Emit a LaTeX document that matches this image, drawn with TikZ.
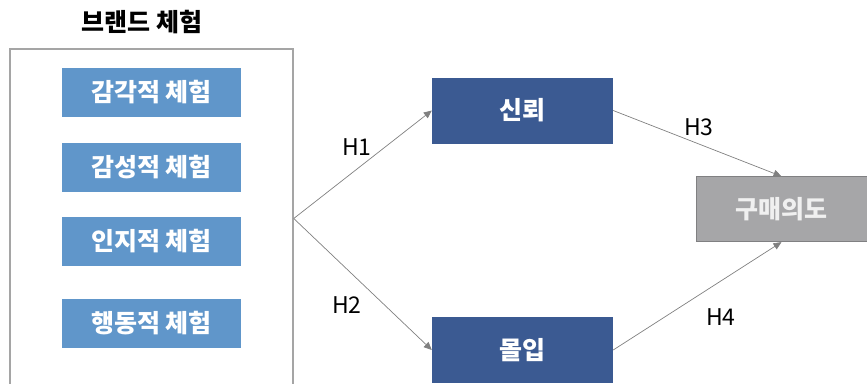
\documentclass[tikz,border=0pt]{standalone}
\usepackage{fontspec}
\setmainfont{Noto Sans CJK KR}
\usetikzlibrary{arrows.meta}
\definecolor{lightbox}{RGB}{96,150,202}
\definecolor{darkbox}{RGB}{59,90,146}
\definecolor{greybox}{RGB}{166,166,168}
\definecolor{greyedge}{RGB}{128,128,130}
\definecolor{framegrey}{RGB}{165,165,165}
\definecolor{arrowgrey}{RGB}{128,128,128}
\newcommand{\kfont}{\bfseries\fontsize{25}{28}\selectfont}
\tikzset{
  expbox/.style={fill=lightbox, draw=none, minimum width=179pt, minimum height=49pt, inner sep=0pt, text=white, font=\kfont},
  medbox/.style={fill=darkbox, draw=none, minimum width=181pt, minimum height=66pt, inner sep=0pt, text=white, font=\kfont},
  outbox/.style={fill=greybox, draw=greyedge, line width=0.8pt, minimum width=171pt, minimum height=65pt, inner sep=0pt, text=white!94!black, font=\kfont},
  framebox/.style={draw=framegrey, line width=1.5pt, fill=white, minimum width=283pt, minimum height=339pt, inner sep=0pt},
  hyp/.style={draw=arrowgrey, line width=0.7pt, -{Triangle[length=8pt,width=7pt]}},
  hlab/.style={font=\fontsize{23}{26}\selectfont, text=black, inner sep=0pt}
}
\begin{document}
\begin{tikzpicture}[x=1pt,y=-1pt]
\useasboundingbox (0,0) rectangle (867,383);
\begin{scope}
\clip (0,0) rectangle (867,383);
\node[framebox] (frame) at (151.5,218.5) {};
\node[expbox] (e1) at (151.5,92.5) {감각적 체험};
\node[expbox] (e2) at (151.5,167) {감성적 체험};
\node[expbox] (e3) at (151.5,241.5) {인지적 체험};
\node[expbox] (e4) at (151.5,323) {행동적 체험};
\node[medbox] (trust) at (522.5,110.5) {신뢰};
\node[medbox] (flow) at (522.5,350) {몰입};
\node[outbox] (intent) at (781.5,209.2) {구매의도};
\node[font=\kfont, inner sep=0pt] (title) at (142,22) {브랜드 체험};
\draw[hyp] (frame.east) -- (trust.west);
\draw[hyp] (frame.east) -- (flow.west);
\draw[hyp] (trust.east) -- (intent.north);
\draw[hyp] (flow.east) -- (intent.south);
\node[hlab] (h1) at (357,147) {H1};
\node[hlab] (h2) at (347,305) {H2};
\node[hlab] (h3) at (699,127) {H3};
\node[hlab] (h4) at (721,317) {H4};
\end{scope}
\end{tikzpicture}
\end{document}
